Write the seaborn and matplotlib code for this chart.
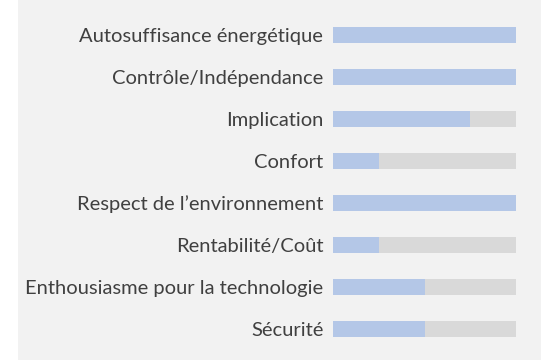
import matplotlib
matplotlib.use("Agg")
import matplotlib.pyplot as plt
from matplotlib.patches import Rectangle
import seaborn as sns
import pandas as pd

categories = [
    "Autosuffisance énergétique",
    "Contrôle/Indépendance",
    "Implication",
    "Confort",
    "Respect de l’environnement",
    "Rentabilité/Coût",
    "Enthousiasme pour la technologie",
    "Sécurité",
]
scores = [4, 4, 3, 1, 4, 1, 2, 2]
max_score = 4

sns.set_theme(style="white")
plt.rcParams["font.family"] = ["Lato", "DejaVu Sans"]

df = pd.DataFrame({"critère": categories, "score": scores,
                   "max": [max_score] * len(categories)})

W, H = 541, 362
fig = plt.figure(figsize=(W / 100, H / 100), dpi=100)
fig.patch.set_facecolor("white")
fig.add_artist(Rectangle((18 / W, 2 / H), (W - 18) / W, (H - 2) / H,
                         transform=fig.transFigure, facecolor="#f2f2f2",
                         edgecolor="none", zorder=0))

ax = fig.add_axes([333 / W, 1 - 350 / H, 183 / W, 336 / H])
ax.set_facecolor("none")

# grey track = maximum score, blue bar = score obtained
sns.barplot(data=df, x="max", y="critère", orient="h", color="#d9d9d9",
            width=0.36, saturation=1, linewidth=0, ax=ax)
sns.barplot(data=df, x="score", y="critère", orient="h", color="#b4c7e7",
            width=0.36, saturation=1, linewidth=0, ax=ax)

ax.set_xlim(0, max_score)
ax.set_ylim(len(categories) - 0.5, -0.5)
ax.set_xlabel("")
ax.set_ylabel("")
ax.set_xticks([])
ax.tick_params(axis="y", length=0, pad=7, labelsize=14.5, labelcolor="#404040")
for s in ax.spines.values():
    s.set_visible(False)

fig.savefig("out.png", dpi=100, facecolor="white")
